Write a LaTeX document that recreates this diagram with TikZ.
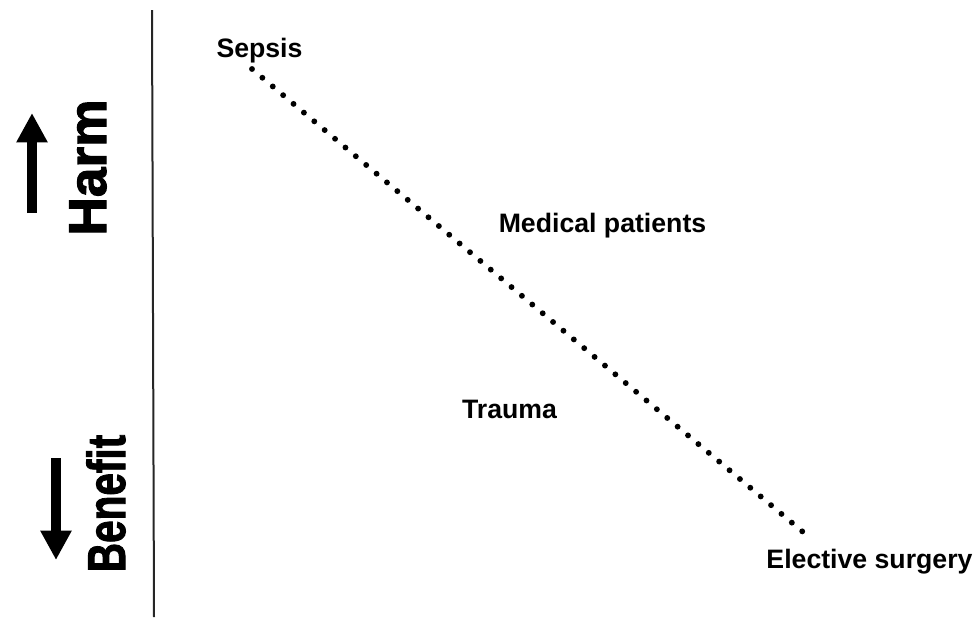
\documentclass[tikz,border=0pt]{standalone}
\usepackage{fontspec}
\setmainfont{Liberation Sans}
\newfontfamily\heavyfont[FakeBold=2]{Liberation Sans Bold}
\usetikzlibrary{arrows.meta}

\tikzset{
    group label/.style={font=\bfseries\fontsize{20}{24}\selectfont, anchor=base},
    axis word/.style={font=\heavyfont\fontsize{40}{48}\selectfont, rotate=90, anchor=base},
    fat arrow/.style={line width=7.5pt, -{Triangle[width=22pt,length=22pt]}},
    dot line/.style={line width=4.4pt, line cap=round, dash pattern=on 0pt off 10.17pt}
}

\begin{document}
\begin{tikzpicture}[x=0.75pt, y=-0.75pt]
    \useasboundingbox (0,0) rectangle (979,619);

    % Drawing the vertical axis
    \coordinate (axis top) at (152,10);
    \coordinate (axis bottom) at (154,617);
    \draw[line width=1.5pt, black!85] (axis top) -- (axis bottom);

    % Drawing the harm side
    \node[axis word] (harm) at (106,167.5) {Harm};
    \coordinate (harm tail) at (32,213);
    \coordinate (harm tip) at (32,113);
    \draw[fat arrow] (harm tail) -- (harm tip);

    % Drawing the benefit side
    \node[axis word] (benefit) at (125,503.5) {\scalebox{0.76}[1]{Benefit}};
    \coordinate (benefit tail) at (56,458);
    \coordinate (benefit tip) at (56,560);
    \draw[fat arrow] (benefit tail) -- (benefit tip);

    % Drawing the patient groups
    \node[group label] (sepsis) at (259.5,57) {Sepsis};
    \node[group label] (medical) at (602.5,232) {Medical patients};
    \node[group label] (trauma) at (509.5,418) {Trauma};
    \node[group label] (elective) at (869.5,568) {Elective surgery};

    % Drawing the dotted trend line
    \coordinate (trend start) at (252,69);
    \coordinate (trend end) at (803,532);
    \draw[dot line] (trend start) -- (trend end);

\end{tikzpicture}
\end{document}
